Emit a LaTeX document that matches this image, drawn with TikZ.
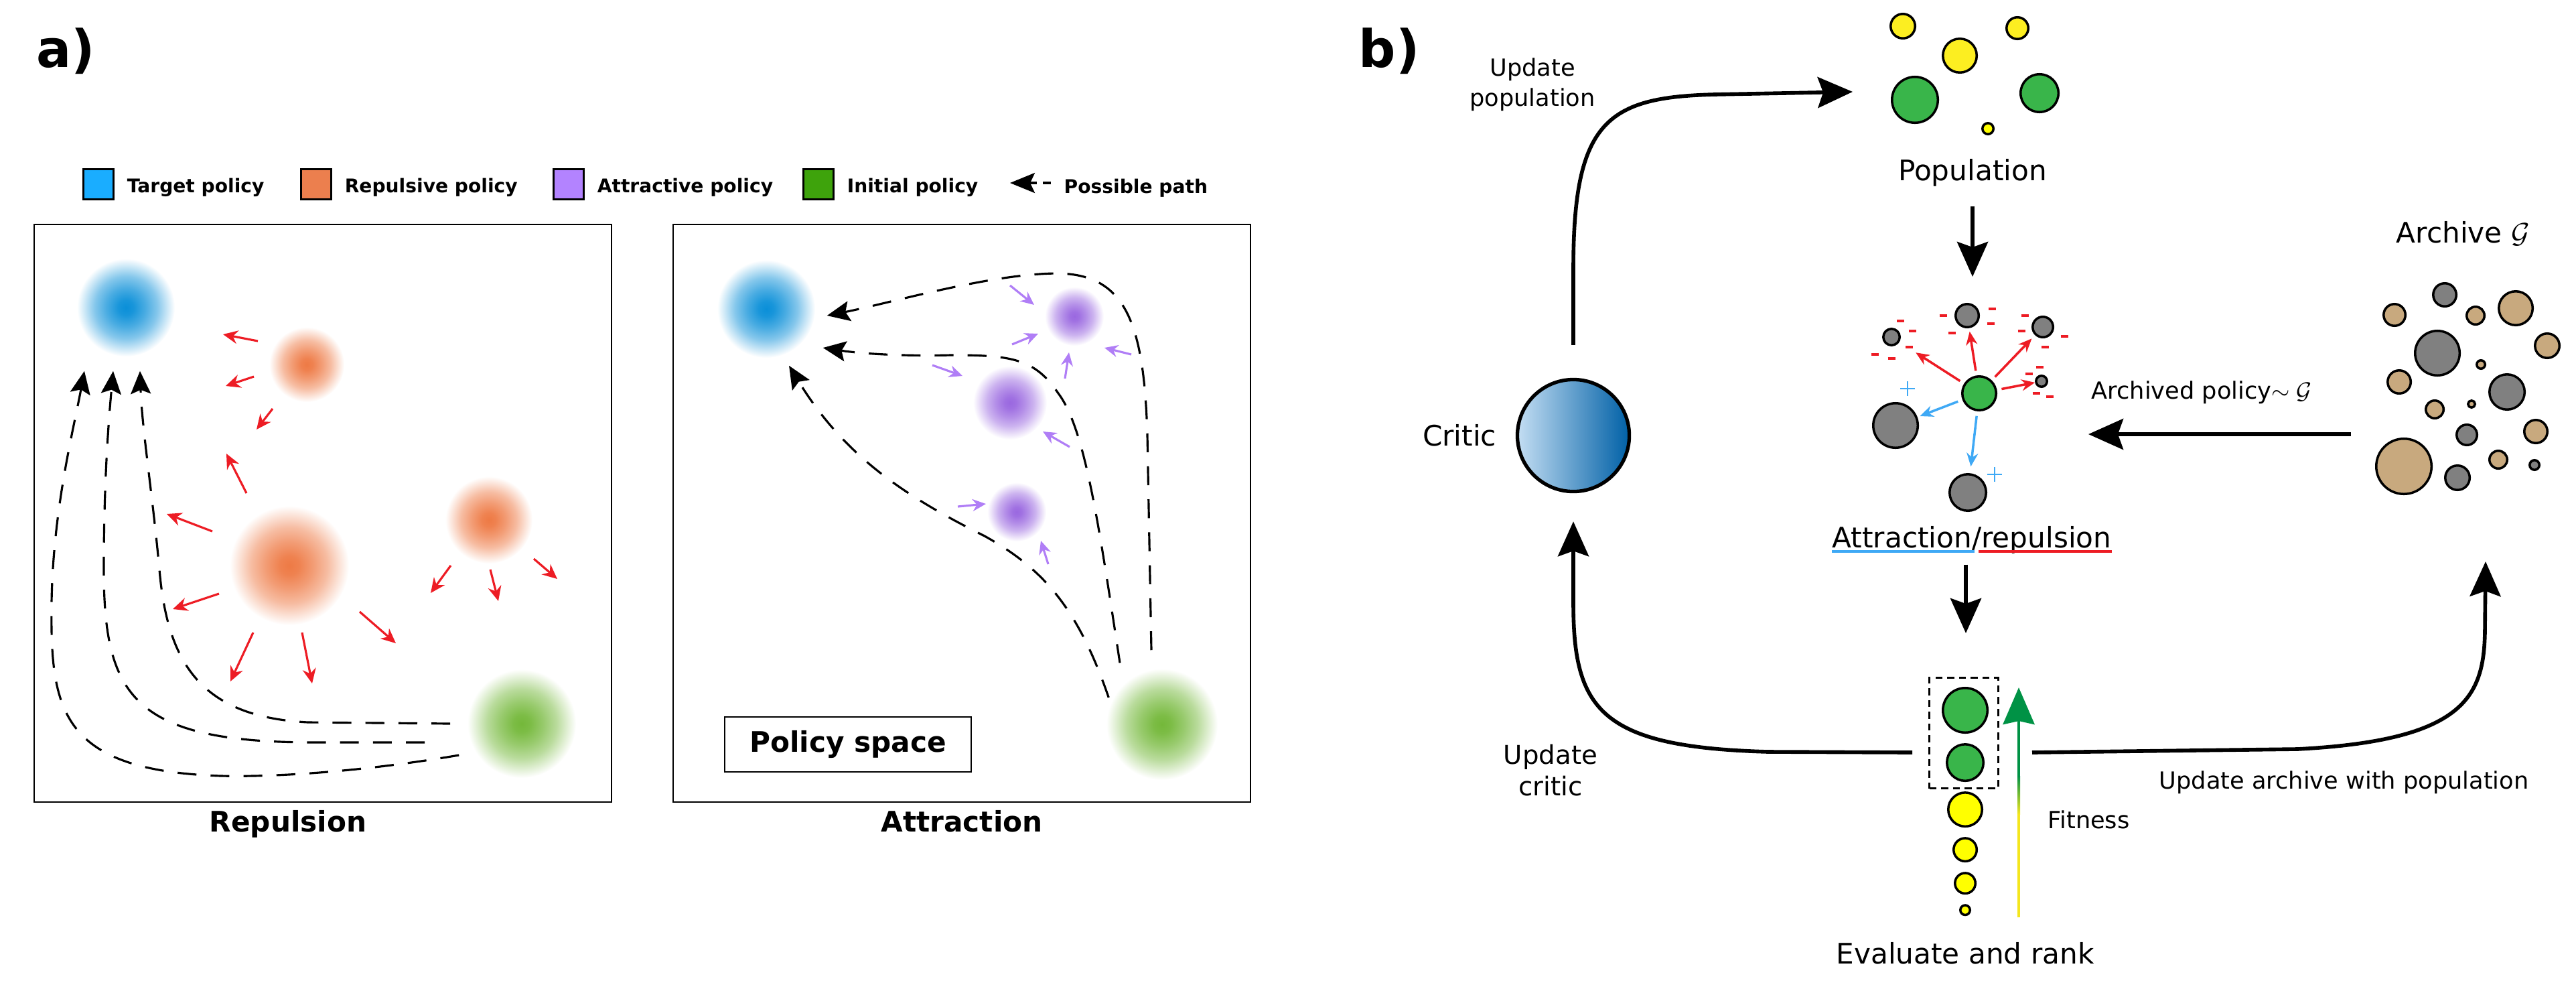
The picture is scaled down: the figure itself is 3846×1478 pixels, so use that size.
\documentclass[tikz,border=0pt]{standalone}
\usepackage{fontspec}
\setmainfont{DejaVu Sans}
\usepackage{tikz}
\usetikzlibrary{arrows.meta,positioning}

\definecolor{legblue}{HTML}{1AADFF}
\definecolor{legorange}{HTML}{EC7F4E}
\definecolor{legpurple}{HTML}{B383FF}
\definecolor{leggreen}{HTML}{3EA30C}
\definecolor{tgtblue}{HTML}{0A8FD8}
\definecolor{reporange}{HTML}{EE7A45}
\definecolor{attpurple}{HTML}{9A68E0}
\definecolor{initgreen}{HTML}{74B83A}
\definecolor{arrred}{HTML}{ED1C24}
\definecolor{arrblue}{HTML}{3FA9F5}
\definecolor{arrpurple}{HTML}{B07EF6}
\definecolor{popgreen}{HTML}{39B54A}
\definecolor{popyellow}{HTML}{FCEE21}
\definecolor{rankyellow}{HTML}{FFFF00}
\definecolor{polgray}{HTML}{808080}
\definecolor{archtan}{HTML}{C8A97E}
\definecolor{fitgreen}{HTML}{009245}
\definecolor{fityellow}{HTML}{F4E61E}
\definecolor{critlight}{HTML}{C4DEF3}
\definecolor{critmid}{HTML}{1E98D6}
\definecolor{critdark}{HTML}{0060A6}

\newcommand\blobshading[2]{%
  \pgfdeclareradialshading{#1}{\pgfpointorigin}{color(0bp)=(#2); color(4bp)=(#2!94!white);
    color(10bp)=(#2!74!white); color(16bp)=(#2!50!white); color(21bp)=(#2!22!white);
    color(25bp)=(white); color(50bp)=(white)}}
\blobshading{blobB}{tgtblue}
\blobshading{blobO}{reporange}
\blobshading{blobP}{attpurple}
\blobshading{blobG}{initgreen}

\begin{document}
\begin{tikzpicture}[x=0.01cm, y=-0.01cm,
    panel/.style={draw, line width=0.6pt, minimum width=8.62cm, minimum height=8.61cm, inner sep=0pt},
    swatch/.style={draw, line width=0.9pt, minimum size=0.45cm, inner sep=0pt, fill=#1},
    legtext/.style={font=\fontsize{8}{9.6}\selectfont\bfseries, inner sep=0pt, yshift=-0.05cm},
    title/.style={font=\fontsize{12}{14}\selectfont\bfseries, inner sep=0pt},
    panellbl/.style={font=\fontsize{22}{26}\selectfont\bfseries, inner sep=0pt, anchor=base west},
    blob/.style={circle, inner sep=0pt, shade, minimum size=#1*0.02cm},
    pathline/.style={line width=0.9pt, dash pattern=on 8pt off 6pt,
      -{Stealth[length=0.34cm, width=0.3cm, inset=0.06cm]}},
    push/.style={arrred, line width=0.9pt, -{Stealth[length=0.22cm, width=0.2cm]}},
    pull/.style={arrpurple, line width=0.9pt, -{Stealth[length=0.2cm, width=0.18cm]}},
    ball/.style={circle, draw, line width=1pt, inner sep=0pt, minimum size=#1*0.02cm-1pt},
    repel/.style={arrred, line width=1pt, -{Stealth[length=0.2cm, width=0.17cm]}},
    attract/.style={arrblue, line width=1pt, -{Stealth[length=0.2cm, width=0.17cm]}},
    flow/.style={line width=1.6pt, -{Stealth[length=0.52cm, width=0.46cm, inset=0.08cm]}},
    lbl/.style={font=\fontsize{12}{14}\selectfont, inner sep=0pt},
    note/.style={font=\fontsize{10}{12.8}\selectfont, inner sep=0pt, align=center}
  ]
  \useasboundingbox (0,0) rectangle (3846,1478);

  % a) policy space
  \node[panellbl] (pa) at (54,100) {a)};
  \node[swatch=legblue] (lgT) at (147,275) {};
  \node[legtext, right=0.18cm of lgT] (lgTt) {Target policy};
  \node[swatch=legorange] (lgR) at (472,275) {};
  \node[legtext, right=0.18cm of lgR] (lgRt) {Repulsive policy};
  \node[swatch=legpurple] (lgA) at (849,275) {};
  \node[legtext, right=0.18cm of lgA] (lgAt) {Attractive policy};
  \node[swatch=leggreen] (lgI) at (1222,275) {};
  \node[legtext, right=0.18cm of lgI] (lgIt) {Initial policy};
  \node[legtext, anchor=west] (lgP) at (1588,276) {Possible path};
  \draw[line width=0.9pt, -{Stealth[length=0.37cm, width=0.3cm, inset=0.07cm]}] (1548,273) -- (1508,273);
  \draw[line width=0.9pt] (1557,273) -- (1569,273);

  \node[panel] (repbox) at (482,766) {};
  \node[panel] (attbox) at (1436,766) {};
  \node[title, anchor=base] (replbl) at (430,1241) {Repulsion};
  \node[title, anchor=base] (attlbl) at (1436,1241) {Attraction};
  \node[title, draw, line width=0.6pt, minimum width=3.68cm, minimum height=0.82cm] (polsp) at (1266,1111) {Policy space};

  \node[blob=73, shading=blobB] (tgtR) at (188,459) {};
  \node[blob=56, shading=blobO] (repR1) at (458,544) {};
  \node[blob=89, shading=blobO] (repR2) at (432,844) {};
  \node[blob=65, shading=blobO] (repR3) at (730,776) {};
  \node[blob=81, shading=blobG] (iniR) at (779,1080) {};

  \node[blob=73, shading=blobB] (tgtA) at (1144,461) {};
  \node[blob=44, shading=blobP] (attA1) at (1604,472) {};
  \node[blob=55, shading=blobP] (attA2) at (1508,601) {};
  \node[blob=44, shading=blobP] (attA3) at (1518,764) {};
  \node[blob=83, shading=blobG] (iniA) at (1735,1081) {};

  \foreach \a/\b/\c/\d in {385/509/333/499, 379/562/337/576, 407/610/383/641, 368/736/338/677,
      317/793/249/767, 327/886/258/909, 378/944/344/1017, 451/944/466/1020, 537/913/591/960,
      673/844/643/885, 732/850/744/897, 797/834/832/864}
    \draw[push] (\a,\b) -- (\c,\d);
  \foreach \a/\b/\c/\d in {1508/426/1544/455, 1511/514/1550/498, 1689/529/1649/519,
      1590/565/1596/526, 1392/545/1437/561, 1597/667/1557/644, 1430/756/1472/752, 1565/842/1554/807}
    \draw[pull] (\a,\b) -- (\c,\d);

  \draw[pathline] ([xshift=-0.12cm, yshift=-0.47cm]iniR.west) .. controls (550,1150) and (420,1160) .. (330,1158)
    .. controls (90,1150) and (75,1060) .. (77,900) .. controls (79,760) and (110,640) .. ([xshift=-0.62cm, yshift=-0.21cm]tgtR.south);
  \draw[pathline] ([xshift=-0.63cm, yshift=-0.28cm]iniR.west) -- (470,1108) .. controls (200,1108) and (155,1040) .. (155,850)
    .. controls (155,720) and (162,630) .. ([xshift=-0.19cm, yshift=-0.21cm]tgtR.south);
  \draw[pathline] ([xshift=-0.25cm]iniR.west) -- (460,1078) .. controls (300,1070) and (250,990) .. (238,850)
    .. controls (228,740) and (212,640) .. ([xshift=0.21cm, yshift=-0.21cm]tgtR.south);

  \draw[pathline] ([xshift=-0.16cm, yshift=0.27cm]iniA.north) -- (1713,650) .. controls (1708,480) and (1680,410) .. (1580,408)
    .. controls (1480,408) and (1330,452) .. ([xshift=0.17cm, yshift=-0.1cm]tgtA.east);
  \draw[pathline] ([xshift=-0.63cm, yshift=0.08cm]iniA.north) .. controls (1640,780) and (1620,640) .. (1580,587)
    .. controls (1545,535) and (1510,530) .. (1420,530) .. controls (1340,532) and (1280,527) .. ([xshift=0.11cm, yshift=-0.58cm]tgtA.east);
  \draw[pathline] ([xshift=0.04cm, yshift=0.4cm]iniA.west) .. controls (1610,910) and (1560,850) .. (1470,800)
    .. controls (1350,740) and (1260,680) .. ([xshift=0.34cm, yshift=-0.11cm]tgtA.south);

  % b) loop
  \node[panellbl] (pb) at (2028,100) {b)};

  \node[ball=20, fill=popyellow] (py1) at (2841,39) {};
  \node[ball=27, fill=popyellow] (py2) at (2926,83) {};
  \node[ball=18, fill=popyellow] (py3) at (3012,42) {};
  \node[ball=36, fill=popgreen] (pg1) at (2859,149) {};
  \node[ball=30, fill=popgreen] (pg2) at (3045,139) {};
  \node[ball=10, fill=rankyellow] (py4) at (2968,192) {};
  \node[lbl, anchor=base] (poplbl) at (2945,269) {Population};

  \node[ball=27, fill=popgreen] (ctr) at (2955,587) {};
  \node[ball=19, fill=polgray] (g1) at (2937,471) {};
  \node[ball=14, fill=polgray] (g2) at (2824,503) {};
  \node[ball=17, fill=polgray] (g3) at (3050,488) {};
  \node[ball=10, fill=polgray] (g4) at (3048,569) {};
  \node[ball=35, fill=polgray] (g5) at (2830,635) {};
  \node[ball=29, fill=polgray] (g6) at (2938,735) {};
  \draw[repel, shorten <=0.07cm, shorten >=0.05cm] (ctr) -- (g1);
  \draw[repel, shorten <=0.07cm, shorten >=0.29cm] (ctr) -- (g2);
  \draw[repel, shorten <=0.07cm, shorten >=0.07cm] (ctr) -- (g3);
  \draw[repel, shorten <=0.07cm] (ctr) -- (g4);
  \draw[attract, shorten <=0.07cm, shorten >=0.04cm] (ctr) -- (g5);
  \draw[attract, shorten <=0.07cm, shorten >=0.1cm] (ctr) -- (g6);
  \foreach \x/\y in {2837/479, 2855/494, 2850/518, 2799/529, 2824/535, 2901/471, 2974/461, 2972/483,
      2914/497, 3023/471, 3018/494, 3082/502, 3053/518, 3045/548, 3029/558, 3040/587, 3060/592}
    \draw[arrred, line width=0.9pt] (\x-5.5,\y) -- (\x+5.5,\y);
  \foreach \x/\y in {2848/580, 2978/708}
    \draw[arrblue, line width=0.8pt] (\x-11,\y) -- (\x+11,\y) (\x,\y-11) -- (\x,\y+11);
  \node[lbl, anchor=base] (attrlbl) at (2944,817) {Attraction/repulsion};
  \draw[arrblue, line width=0.9pt] ([yshift=-0.06cm]attrlbl.base west) -- ++(213,0);
  \draw[arrred, line width=0.9pt] ([yshift=-0.06cm]attrlbl.base east) -- ++(-199,0);

  \node[ball=35, fill=popgreen] (r1) at (2934,1060) {};
  \node[ball=29, fill=popgreen, below=0.14cm of r1] (r2) {};
  \node[ball=27, fill=rankyellow, below=0.14cm of r2] (r3) {};
  \node[ball=19, fill=rankyellow, below=0.14cm of r3] (r4) {};
  \node[ball=17, fill=rankyellow, below=0.14cm of r4] (r5) {};
  \node[ball=9, fill=rankyellow, below=0.14cm of r5] (r6) {};
  \node[draw, line width=0.8pt, dash pattern=on 3pt off 2pt, minimum width=1.03cm, minimum height=1.65cm,
    inner sep=0pt] (topbox) at (2932,1094) {};
  \node[lbl, below=0.38cm of r6] (ranklbl) {Evaluate and rank};
  \coordinate (fitlo) at (3014,1369);
  \coordinate (fithi) at (3014,1026);
  \draw[fityellow, line width=1.2pt] (fitlo) -- (3014,1213);
  \shade[bottom color=fityellow, top color=fitgreen] (3012,1215) rectangle (3016,1158);
  \draw[fitgreen, line width=1.2pt, -{Stealth[length=0.55cm, width=0.47cm, inset=0.05cm]}] (3014,1160) -- (fithi);
  \node[note, anchor=base west] (fitlbl) at (3057,1236) {Fitness};

  \node[circle, draw, line width=1.5pt, minimum size=1.67cm, inner sep=0pt,
    left color=critlight, middle color=critmid, right color=critdark] (critic) at (2349,650) {};
  \node[lbl, left=0.28cm of critic] (criticlbl) {Critic};

  \foreach \x/\y/\r/\c [count=\i] in {3650/440/19/polgray, 3575/470/18/archtan, 3696/471/15/archtan,
      3756/460/27/archtan, 3803/516/20/archtan, 3639/527/35/polgray, 3704/544/8/archtan,
      3582/570/19/archtan, 3743/585/28/polgray, 3635/611/15/archtan, 3690/603/7/archtan,
      3683/649/17/polgray, 3786/644/19/archtan, 3589/696/43/archtan, 3669/713/20/polgray,
      3730/686/15/archtan, 3784/694/9/polgray}
    \node[ball=\r, fill=\c] (a\i) at (\x,\y) {};
  \node[lbl, anchor=base west] (archlbl) at (3577,362) {Archive $\mathcal{G}$};
  \node[note, anchor=base west] (samplbl) at (3122,595) {Archived policy$\sim\mathcal{G}$};

  \coordinate (popin) at (2766,137);
  \coordinate (attrin) at (2945,413);
  \coordinate (archout) at (3510,648);
  \coordinate (attrside) at (3118,648);
  \coordinate (rankin) at (2935,945);
  \coordinate (critout) at ([xshift=-0.24cm, yshift=-0.29cm]topbox.west);
  \coordinate (archin) at ([xshift=0.49cm, yshift=-0.29cm]topbox.east);
  \coordinate (archtip) at (3711,838);

  \draw[flow] ([yshift=0.49cm]critic.north) -- (2349,400) .. controls (2349,180) and (2400,145) .. (2560,141) -- (popin);
  \draw[flow] ([yshift=-0.29cm]poplbl.south) -- (attrin);
  \draw[flow] (archout) -- (attrside);
  \draw[flow] ([yshift=-0.16cm]attrlbl.south -| rankin) -- (rankin);
  \draw[flow] (critout) -- (2640,1122) .. controls (2390,1115) and (2349,1060) .. (2349,900) -- ([yshift=-0.42cm]critic.south);
  \draw[flow] (archin) -- (3430,1118) .. controls (3680,1105) and (3709,1040) .. (3710,940) -- (archtip);

  \node[note, anchor=north] (updpop) at (2288,86) {Update\\population};
  \node[note, font=\fontsize{11}{13.6}\selectfont, anchor=north] (updcrit) at (2315,1110) {Update\\critic};
  \node[note, anchor=base west] (updarch) at (3223,1177) {Update archive with population};
\end{tikzpicture}
\end{document}
